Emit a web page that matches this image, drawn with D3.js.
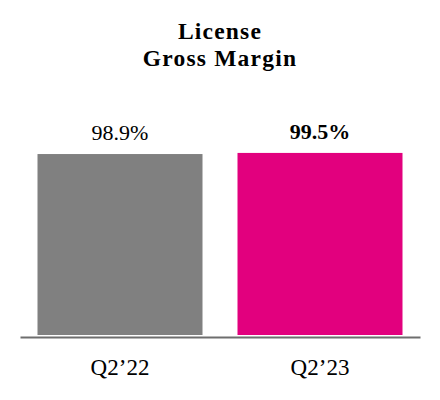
<!doctype html>
<html>
  <head>
    <script src="https://d3js.org/d3.v7.min.js"></script>
    <style>
      body { margin: 0; background: #fff; }
      svg { display: block; font-family: "Liberation Serif", "Times New Roman", serif; }
    </style>
  </head>
  <body>
    <svg class="chart" width="440" height="400"></svg>
    <script>
      var categories = ["Q2\u201922", "Q2\u201923"];
      var values = [98.9, 99.5];
      var valueLabels = ["98.9%", "99.5%"];
      var colors = ["#808080", "#e2007e"];
      var titleLines = ["License", "Gross Margin"];

      var svg = d3.select("svg"),
        baseY = 337,
        left = 20,
        right = 420;

      var xScale = d3.scaleBand().domain(categories).range([left, right]).paddingInner(0.175).paddingOuter(0.0875);
      var yScale = d3.scaleLinear().domain([0, 100]).range([baseY, 152]);

      svg.selectAll(".title")
        .data(titleLines)
        .enter().append("text")
        .attr("x", 220)
        .attr("y", function(d, i){ return 39 + i * 27; })
        .attr("text-anchor", "middle")
        .attr("font-size", 23.5)
        .attr("font-weight", "bold")
        .attr("letter-spacing", 1.2)
        .text(function(d){ return d; });

      svg.selectAll(".bar")
        .data(values)
        .enter().append("rect")
        .attr("x", function(d, i){ return xScale(categories[i]); })
        .attr("y", function(d){ return yScale(d); })
        .attr("width", xScale.bandwidth())
        .attr("height", function(d){ return baseY - 2 - yScale(d); })
        .attr("fill", function(d, i){ return colors[i]; });

      svg.selectAll(".val")
        .data(values)
        .enter().append("text")
        .attr("x", function(d, i){ return xScale(categories[i]) + xScale.bandwidth() / 2; })
        .attr("y", function(d){ return yScale(d) - 14; })
        .attr("text-anchor", "middle")
        .attr("font-size", 22)
        .attr("font-weight", function(d, i){ return i == 1 ? "bold" : "normal"; })
        .text(function(d, i){ return valueLabels[i]; });

      var axis = svg.append("g")
        .attr("transform", "translate(0," + baseY + ")")
        .call(d3.axisBottom(xScale).tickSize(0).tickPadding(22));
      axis.select(".domain").attr("stroke", "#6e6e6e").attr("stroke-width", 2);
      axis.selectAll("text")
        .attr("font-family", "Liberation Serif, serif")
        .attr("font-size", 23)
        .attr("fill", "#000");
    </script>
  </body>
</html>
